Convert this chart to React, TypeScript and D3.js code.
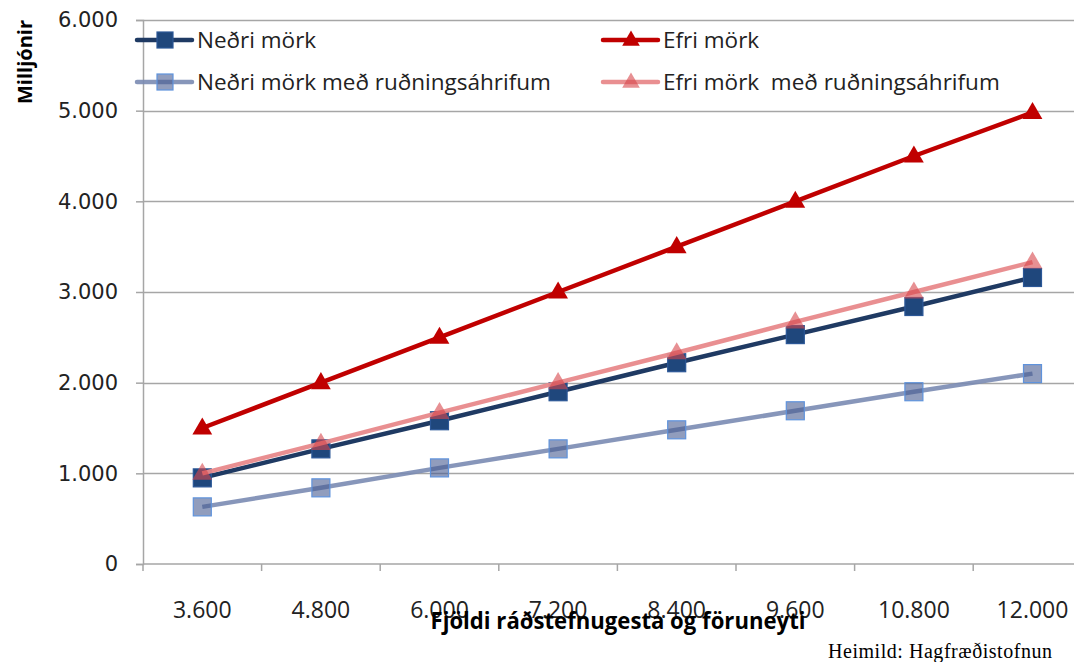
import * as d3 from "d3";
import { useEffect, useRef } from "react";

const guests = ["3.600", "4.800", "6.000", "7.200", "8.400", "9.600", "10.800", "12.000"];
const lowerBound = [950, 1270, 1580, 1900, 2220, 2530, 2840, 3160];
const upperBound = [1500, 2000, 2500, 3000, 3500, 4000, 4500, 4980];
const lowerCrowding = [630, 840, 1060, 1270, 1480, 1690, 1900, 2100];
const upperCrowding = [1000, 1330, 1670, 2000, 2330, 2670, 3000, 3330];
const yTicks = [0, 1000, 2000, 3000, 4000, 5000, 6000];

type Series = {
  name: string;
  values: number[];
  line: string;
  lineOpacity: number;
  marker: "square" | "triangle";
  fill: string;
  stroke: string;
};

const series: Series[] = [
  { name: "Neðri mörk", values: lowerBound, line: "#1f3a63", lineOpacity: 1, marker: "square", fill: "#1f477c", stroke: "#2b5797" },
  { name: "Efri mörk", values: upperBound, line: "#c00000", lineOpacity: 1, marker: "triangle", fill: "#c00000", stroke: "#c00000" },
  { name: "Neðri mörk með ruðningsáhrifum", values: lowerCrowding, line: "#7a8bb3", lineOpacity: 0.9, marker: "square", fill: "rgba(72,92,145,0.6)", stroke: "#5f93dc" },
  { name: "Efri mörk  með ruðningsáhrifum", values: upperCrowding, line: "#e8898b", lineOpacity: 0.95, marker: "triangle", fill: "rgba(215,70,75,0.6)", stroke: "rgba(215,70,75,0.6)" },
];

const fmt = (v: number) => (v === 0 ? "0" : d3.format(",")(v).replace(/,/g, "."));

export default function App() {
  const ref = useRef<SVGSVGElement | null>(null);
  const width = 1074;
  const height = 662;

  useEffect(() => {
    document.body.style.margin = "0";
    const svg = d3.select(ref.current);
    svg.selectAll("*").remove();

    const left = 143;
    const x = d3.scaleBand().domain(guests).range([left, left + 8 * 118.6]);
    const y = d3.scaleLinear().domain([0, 6000]).range([564, 20]);
    const cx = (g: string) => x(g)! + x.bandwidth() / 2;

    // grid
    svg
      .append("g")
      .selectAll("line")
      .data(yTicks.filter((t) => t > 0))
      .enter()
      .append("line")
      .attr("x1", left)
      .attr("x2", width)
      .attr("y1", (d) => Math.round(y(d)) + 0.5)
      .attr("y2", (d) => Math.round(y(d)) + 0.5)
      .attr("stroke", "#a6a6a6")
      .attr("stroke-width", 1.5);

    // y axis
    const yAxis = svg
      .append("g")
      .attr("transform", `translate(${left},0)`)
      .call(d3.axisLeft(y).tickValues(yTicks).tickSize(7).tickPadding(18).tickFormat((d) => fmt(+d)));
    yAxis.select(".domain").attr("stroke", "#a6a6a6").attr("stroke-width", 1.5);
    yAxis.selectAll(".tick line").attr("stroke", "#a6a6a6").attr("stroke-width", 1.5);
    yAxis
      .selectAll("text")
      .style("font-family", "DejaVu Sans")
      .style("font-size", "21px")
      .attr("fill", "#222");

    // x axis
    const xAxis = svg.append("g").attr("transform", `translate(0,${y(0)})`);
    xAxis
      .append("line")
      .attr("x1", left)
      .attr("x2", width)
      .attr("stroke", "#a6a6a6")
      .attr("stroke-width", 1.5);
    xAxis
      .selectAll(".tk")
      .data(guests)
      .enter()
      .append("line")
      .attr("x1", (d) => x(d)!)
      .attr("x2", (d) => x(d)!)
      .attr("y1", 0)
      .attr("y2", 7)
      .attr("stroke", "#a6a6a6")
      .attr("stroke-width", 1.5);
    xAxis
      .selectAll("text")
      .data(guests)
      .enter()
      .append("text")
      .attr("x", cx)
      .attr("y", 54)
      .attr("text-anchor", "middle")
      .style("font-family", "Open Sans")
      .style("font-size", "23px")
      .attr("fill", "#222")
      .text((d) => d);

    // titles
    svg
      .append("text")
      .attr("transform", "translate(32,62) rotate(-90)")
      .attr("text-anchor", "middle")
      .style("font-family", "Open Sans")
      .style("font-weight", "bold")
      .style("font-size", "20px")
      .text("Milljónir");
    svg
      .append("text")
      .attr("x", 618)
      .attr("y", 629)
      .attr("text-anchor", "middle")
      .style("font-family", "Open Sans")
      .style("font-weight", "bold")
      .style("font-size", "23px")
      .attr("textLength", 375)
      .attr("lengthAdjust", "spacingAndGlyphs")
      .text("Fjöldi ráðstefnugesta og föruneyti");
    svg
      .append("text")
      .attr("x", 1052)
      .attr("y", 658)
      .attr("text-anchor", "end")
      .style("font-family", "Liberation Serif")
      .style("font-size", "20px")
      .attr("textLength", 224)
      .text("Heimild: Hagfræðistofnun");

    const drawMarker = (
      sel: d3.Selection<SVGGElement, unknown, null, undefined>,
      s: Series,
      px: number,
      py: number,
      size: number,
    ) => {
      if (s.marker === "square") {
        sel
          .append("rect")
          .attr("x", px - size / 2)
          .attr("y", py - size / 2)
          .attr("width", size)
          .attr("height", size)
          .attr("fill", s.fill)
          .attr("stroke", s.stroke)
          .attr("stroke-width", 1.2);
      } else {
        const w = size * 1.1;
        const h = size * 0.95;
        sel
          .append("path")
          .attr(
            "d",
            `M${px},${py - h * 0.62}L${px + w / 2},${py + h * 0.38}L${px - w / 2},${py + h * 0.38}Z`,
          )
          .attr("fill", s.fill);
      }
    };

    // series
    const line = d3
      .line<number>()
      .x((_, i) => cx(guests[i]))
      .y((d) => y(d));

    series.forEach((s) => {
      const g = svg.append("g");
      g.append("path")
        .attr("d", line(s.values))
        .attr("fill", "none")
        .attr("stroke", s.line)
        .attr("stroke-opacity", s.lineOpacity)
        .attr("stroke-width", 4.5);
      s.values.forEach((v, i) => drawMarker(g, s, cx(guests[i]), y(v), 18));
    });

    // legend
    const legendPos = [
      [137, 40],
      [603, 40],
      [137, 82],
      [603, 82],
    ];
    series.forEach((s, i) => {
      const [lx, ly] = legendPos[i];
      const g = svg.append("g");
      g.append("line")
        .attr("x1", lx)
        .attr("x2", lx + 55)
        .attr("y1", ly)
        .attr("y2", ly)
        .attr("stroke", s.line)
        .attr("stroke-opacity", s.lineOpacity)
        .attr("stroke-width", 4.5)
        .attr("stroke-linecap", "round");
      drawMarker(g, s, lx + 28, ly, 16);
      g.append("text")
        .attr("x", lx + 60)
        .attr("y", ly + 8)
        .style("font-family", "Open Sans")
        .style("font-size", "22.5px")
        .style("white-space", "pre")
        .attr("fill", "#222")
        .text(s.name);
    });
  }, []);

  return (
    <svg ref={ref} width={width} height={height} style={{ display: "block", background: "#fff" }}>
      <title>Milljónir eftir fjölda ráðstefnugesta</title>
    </svg>
  );
}
